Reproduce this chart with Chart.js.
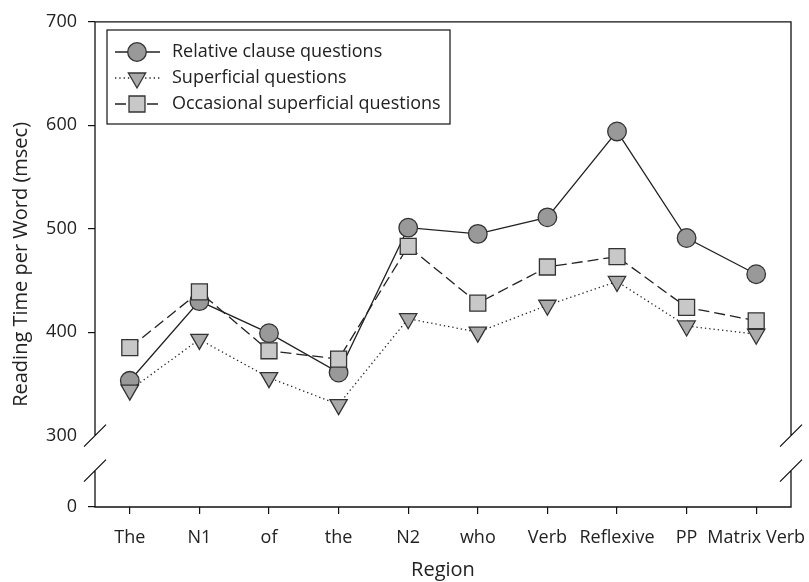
<!DOCTYPE html>
<html>
<head>
<meta charset="utf-8">
<script src="https://cdn.jsdelivr.net/npm/chart.js@4.4.1/dist/chart.umd.min.js"></script>
<style>
html, body { margin: 0; padding: 0; background: #fff; }
</style>
</head>
<body>
<canvas id="chart" width="809" height="582"></canvas>
<script>
var regions = ['The', 'N1', 'of', 'the', 'N2', 'who', 'Verb', 'Reflexive', 'PP', 'Matrix Verb'];
var relativeClause = [353, 430, 399, 361, 501, 495, 511, 594, 491, 456];
var superficial = [344, 393, 356, 330, 413, 400, 426, 449, 406, 398];
var occasional = [385, 439, 382, 374, 483, 428, 463, 473, 424, 411];
var yTickLabels = [0, 300, 400, 500, 600, 700];

// broken axis: 0 is drawn a bit below 300
var zeroAt = 231;
var breakFrom = 300;

var seriesNames = ['Relative clause questions', 'Superficial questions', 'Occasional superficial questions'];

Chart.defaults.font.family = "'Open Sans', sans-serif";
Chart.defaults.font.size = 18;
Chart.defaults.color = '#222';

function drawMarker(c, style, x, y, r, fill) {
    c.beginPath();
    if (style === 'circle') {
        c.arc(x, y, r, 0, Math.PI * 2);
    } else if (style === 'rect') {
        var s = r * Math.SQRT1_2;
        c.rect(x - s, y - s, 2 * s, 2 * s);
    } else {
        c.moveTo(x, y + r);
        c.lineTo(x - r * 0.866, y - r / 2);
        c.lineTo(x + r * 0.866, y - r / 2);
        c.closePath();
    }
    c.fillStyle = fill;
    c.fill();
    c.stroke();
}

var framePlugin = {
    id: 'frame',
    beforeDatasetsDraw: function(chart) {
        var c = chart.ctx, a = chart.chartArea;
        var upper = chart.scales.y.getPixelForValue(breakFrom);
        var lower = upper + 35;
        c.save();
        c.strokeStyle = '#111';
        c.lineWidth = 1.3;
        c.beginPath();
        c.moveTo(a.left, upper); c.lineTo(a.left, a.top); c.lineTo(a.right, a.top); c.lineTo(a.right, upper);
        c.moveTo(a.left, lower); c.lineTo(a.left, a.bottom); c.lineTo(a.right, a.bottom); c.lineTo(a.right, lower);
        [a.left, a.right].forEach(function(x) {
            [upper, lower].forEach(function(yy) {
                c.moveTo(x - 11, yy + 11);
                c.lineTo(x + 11, yy - 11);
            });
        });
        c.stroke();
        c.restore();
    }
};

var legendPlugin = {
    id: 'boxLegend',
    afterDatasetsDraw: function(chart) {
        var c = chart.ctx;
        c.save();
        c.strokeStyle = '#111';
        c.lineWidth = 1.2;
        c.strokeRect(107, 30, 343, 94);
        chart.data.datasets.forEach(function(ds, i) {
            var y = 52 + i * 26;
            c.strokeStyle = '#222';
            c.lineWidth = 1.3;
            c.setLineDash(ds.borderDash || []);
            c.beginPath();
            c.moveTo(115, y);
            c.lineTo(160, y);
            c.stroke();
            c.setLineDash([]);
            c.strokeStyle = ds.pointBorderColor;
            drawMarker(c, ds.pointStyle, 137, y, ds.pointRadius, ds.pointBackgroundColor);
            c.fillStyle = '#222';
            c.font = "18px 'Open Sans', sans-serif";
            c.textBaseline = 'middle';
            c.fillText(ds.label, 172, y);
        });
        c.restore();
    }
};

new Chart('chart', {
    type: 'line',
    data: {
        labels: regions,
        datasets: [
            {
                label: seriesNames[0],
                data: relativeClause,
                borderColor: '#222',
                borderWidth: 1.3,
                pointStyle: 'circle',
                pointRadius: 9.3,
                pointBackgroundColor: '#999',
                pointBorderColor: '#333',
                pointBorderWidth: 1.3,
                order: 3
            },
            {
                label: seriesNames[1],
                data: superficial,
                borderColor: '#222',
                borderWidth: 1.3,
                borderDash: [1.3, 3],
                pointStyle: 'triangle',
                rotation: 180,
                pointRotation: 180,
                pointRadius: 10,
                pointBackgroundColor: '#aaa',
                pointBorderColor: '#333',
                pointBorderWidth: 1.3,
                order: 1
            },
            {
                label: seriesNames[2],
                data: occasional,
                borderColor: '#222',
                borderWidth: 1.3,
                borderDash: [11, 5],
                pointStyle: 'rect',
                pointRadius: 11.3,
                pointBackgroundColor: '#c8c8c8',
                pointBorderColor: '#333',
                pointBorderWidth: 1.3,
                order: 2
            }
        ]
    },
    options: {
        responsive: false,
        animation: false,
        layout: { padding: { top: 20, right: 18, left: 0, bottom: 0 } },
        plugins: { legend: { display: false }, tooltip: { enabled: false } },
        scales: {
            x: {
                type: 'category',
                offset: true,
                border: { display: false },
                grid: { offset: false, drawOnChartArea: false, tickLength: 7, color: '#111', lineWidth: 1.2 },
                ticks: { autoSkip: false, maxRotation: 0, padding: 13 },
                title: { display: true, text: 'Region', font: { size: 20 }, padding: { top: 0, bottom: 0 } },
                afterFit: function(scale) {
                    scale.height = 75;
                    scale.paddingLeft = 0;
                    scale.paddingRight = 0;
                }
            },
            y: {
                min: zeroAt,
                max: 700,
                border: { display: false },
                grid: {
                    drawOnChartArea: false,
                    tickLength: 7,
                    lineWidth: 1.2,
                    color: '#111',
                    tickColor: function(ctx) {
                        return ctx.tick && ctx.tick.value === breakFrom ? 'rgba(0,0,0,0)' : '#111';
                    }
                },
                ticks: {
                    padding: 11,
                    callback: function(value) { return value === zeroAt ? '0' : value; }
                },
                afterBuildTicks: function(scale) {
                    scale.ticks = yTickLabels.map(function(v) { return { value: v === 0 ? zeroAt : v }; });
                },
                title: { display: true, text: 'Reading Time per Word (msec)', font: { size: 20 }, padding: { top: 9, bottom: 0 } },
                afterFit: function(scale) { scale.width = 95; }
            }
        }
    },
    plugins: [framePlugin, legendPlugin]
});
</script>
</body>
</html>
